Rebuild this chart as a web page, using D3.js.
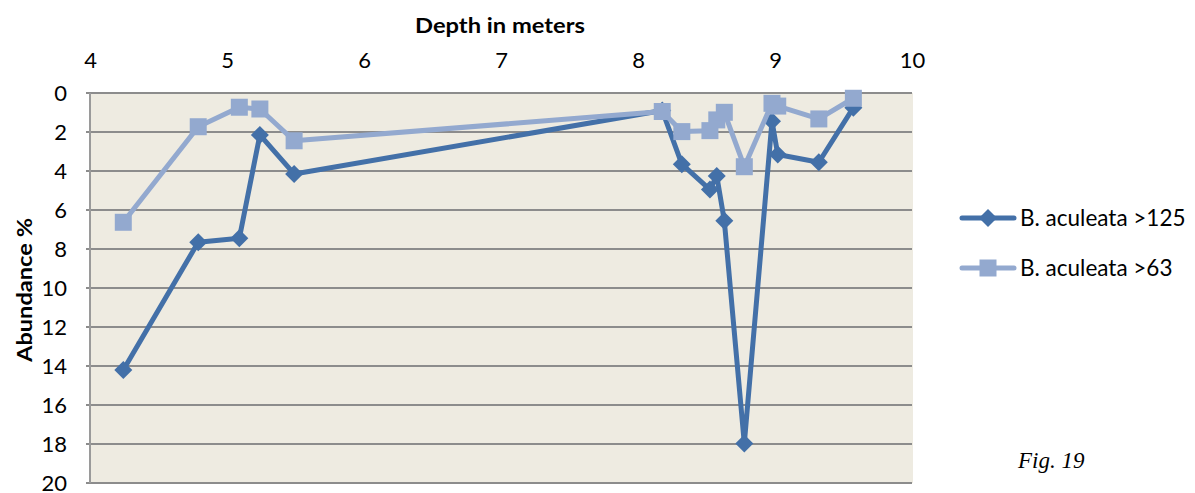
<!DOCTYPE html>
<html>
<head>
<meta charset="utf-8">
<script src="https://cdn.jsdelivr.net/npm/d3@7"></script>
<style>
  html, body { margin: 0; padding: 0; background: #ffffff; }
  svg { display: block; }
  .tick text { font-family: Lato, "Open Sans", sans-serif; font-size: 22px; fill: #000; }
</style>
</head>
<body>
<svg id="chart" width="1195" height="493"></svg>
<script>
// Sample depths (m) shared by both size fractions
const depths = [4.243, 4.79, 5.09, 5.24, 5.49, 8.177, 8.32, 8.525, 8.575, 8.63, 8.776, 8.978, 9.02, 9.32, 9.572];
// Abundance (%) of B. aculeata, >125 µm fraction
const abundance125 = [14.2, 7.65, 7.45, 2.15, 4.15, 0.9, 3.65, 4.95, 4.25, 6.55, 17.97, 1.45, 3.15, 3.55, 0.75];
// Abundance (%) of B. aculeata, >63 µm fraction
const abundance63 = [6.63, 1.73, 0.73, 0.82, 2.45, 0.95, 1.98, 1.93, 1.38, 0.99, 3.78, 0.53, 0.67, 1.33, 0.27];
const seriesNames = ["B. aculeata >125", "B. aculeata >63"];
const xTicks = [4, 5, 6, 7, 8, 9, 10];
const yTicks = [0, 2, 4, 6, 8, 10, 12, 14, 16, 18, 20];

const svg = d3.select("#chart");
const plot = { left: 90, right: 912, top: 93, bottom: 483 };

const x = d3.scaleLinear().domain([4, 10]).range([plot.left, plot.right]);
const y = d3.scaleLinear().domain([0, 20]).range([plot.top, plot.bottom]);

// plot background
svg.append("rect")
  .attr("x", plot.left).attr("y", plot.top)
  .attr("width", plot.right - plot.left + 1).attr("height", plot.bottom - plot.top)
  .attr("fill", "#eeebe1");

// horizontal gridlines
svg.append("g")
  .selectAll("line")
  .data(yTicks)
  .join("line")
  .attr("x1", plot.left - 4).attr("x2", plot.right)
  .attr("y1", d => y(d)).attr("y2", d => y(d))
  .attr("stroke", "#8c8c8c").attr("stroke-width", 2);

// left frame
svg.append("line")
  .attr("x1", plot.left).attr("x2", plot.left)
  .attr("y1", plot.top).attr("y2", plot.bottom)
  .attr("stroke", "#9a9a9a").attr("stroke-width", 2);

// top axis (depth)
const xAxis = svg.append("g")
  .attr("transform", `translate(0,68)`)
  .call(d3.axisTop(x).tickValues(xTicks).tickFormat(d3.format("d")).tickSize(0).tickPadding(0));
xAxis.select(".domain").remove();
xAxis.selectAll("text").attr("dy", 0);

// left axis (abundance)
const yAxis = svg.append("g")
  .attr("transform", `translate(${plot.left - 23},0)`)
  .call(d3.axisLeft(y).tickValues(yTicks).tickFormat(d3.format("d")).tickSize(0).tickPadding(0));
yAxis.select(".domain").remove();

// axis titles
svg.append("text")
  .attr("x", 500).attr("y", 33)
  .attr("text-anchor", "middle")
  .attr("font-family", "Lato, sans-serif").attr("font-weight", "bold").attr("font-size", 21)
  .attr("textLength", 170).attr("lengthAdjust", "spacingAndGlyphs")
  .text("Depth in meters");

svg.append("text")
  .attr("transform", "translate(32,290) rotate(-90)")
  .attr("text-anchor", "middle")
  .attr("font-family", "Lato, sans-serif").attr("font-weight", "bold").attr("font-size", 21)
  .attr("textLength", 144).attr("lengthAdjust", "spacingAndGlyphs")
  .text("Abundance %");

const colors = ["#4370a8", "#93a9cf"];
const line = d3.line().x(d => x(d[0])).y(d => y(d[1]));
const data125 = depths.map((d, i) => [d, abundance125[i]]);
const data63 = depths.map((d, i) => [d, abundance63[i]]);

const diamond = (cx, cy, r) => `M${cx},${cy - r}L${cx + r},${cy}L${cx},${cy + r}L${cx - r},${cy}Z`;
const square = (cx, cy, r) => `M${cx - r},${cy - r}h${2 * r}v${2 * r}h${-2 * r}Z`;

// >125 series
svg.append("path").datum(data125)
  .attr("d", line).attr("fill", "none")
  .attr("stroke", colors[0]).attr("stroke-width", 5).attr("stroke-linejoin", "round");
svg.append("g").selectAll("path").data(data125).join("path")
  .attr("d", d => diamond(x(d[0]), y(d[1]), 9))
  .attr("fill", colors[0]);

// >63 series
svg.append("path").datum(data63)
  .attr("d", line).attr("fill", "none")
  .attr("stroke", colors[1]).attr("stroke-width", 5).attr("stroke-linejoin", "round");
svg.append("g").selectAll("path").data(data63).join("path")
  .attr("d", d => square(x(d[0]), y(d[1]), 8.5))
  .attr("fill", colors[1]);

// legend
const legend = svg.append("g").attr("transform", "translate(962,218)");
const legendRows = [
  { name: seriesNames[0], color: colors[0], shape: diamond, r: 9 },
  { name: seriesNames[1], color: colors[1], shape: square, r: 8.5 }
];
legendRows.forEach((row, i) => {
  const g = legend.append("g").attr("transform", `translate(0,${i * 50})`);
  g.append("line").attr("x1", 0).attr("x2", 52).attr("y1", 0).attr("y2", 0)
    .attr("stroke", row.color).attr("stroke-width", 5).attr("stroke-linecap", "round");
  g.append("path").attr("d", row.shape(26, 0, row.r)).attr("fill", row.color);
  g.append("text").attr("x", 58).attr("y", 0).attr("dy", "0.35em")
    .attr("font-family", "Lato, sans-serif").attr("font-size", 22.5)
    .text(row.name);
});

// figure label
svg.append("text")
  .attr("x", 1018).attr("y", 468)
  .attr("font-family", "'Liberation Serif', 'DejaVu Serif', serif")
  .attr("font-style", "italic").attr("font-size", 23)
  .text("Fig. 19");
</script>
</body>
</html>
